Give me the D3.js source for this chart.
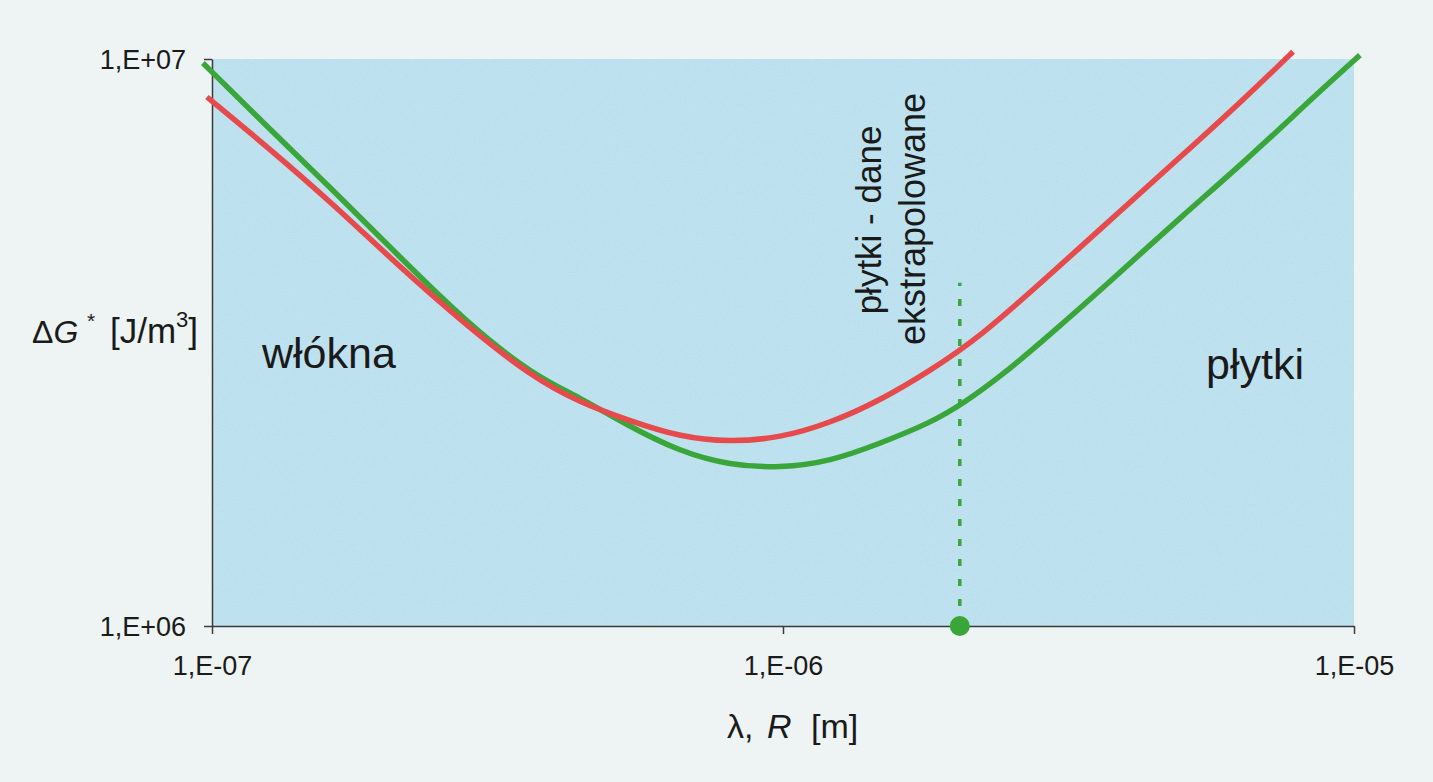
<!DOCTYPE html>
<html>
<head>
<meta charset="utf-8">
<script src="https://cdn.jsdelivr.net/npm/d3@7"></script>
<style>
  html, body { margin: 0; padding: 0; background: #eef3f3; }
  svg { display: block; font-family: "Liberation Sans", Arial, sans-serif; }
</style>
</head>
<body>
<svg id="chart"></svg>
<script>
// krzywe ΔG* w funkcji λ (włókna) / R (płytki)
const redX = [9.8e-8, 1.25e-7, 1.63e-7, 2.13e-7, 2.8e-7, 3.65e-7, 4.41e-7, 5.33e-7, 6.6e-7, 8.07e-7, 9.88e-7, 1.21e-6, 1.48e-6, 1.81e-6, 2.21e-6, 2.9e-6, 3.79e-6, 4.96e-6, 6.5e-6, 7.82e-6];
const redY = [8.57e6, 7.0e6, 5.55e6, 4.3e6, 3.38e6, 2.74e6, 2.48e6, 2.31e6, 2.154e6, 2.111e6, 2.146e6, 2.28e6, 2.5e6, 2.82e6, 3.23e6, 4.12e6, 5.26e6, 6.71e6, 8.6e6, 1.03e7];

const greenX = [9.64e-8, 1.25e-7, 1.63e-7, 2.13e-7, 2.8e-7, 3.65e-7, 4.41e-7, 5.33e-7, 6.6e-7, 8.07e-7, 9.88e-7, 1.21e-6, 1.48e-6, 1.81e-6, 2.07e-6, 2.4e-6, 2.9e-6, 3.79e-6, 4.96e-6, 6.5e-6, 8.47e-6, 1.024e-5];
const greenY = [9.84e6, 7.59e6, 5.87e6, 4.48e6, 3.42e6, 2.77e6, 2.53e6, 2.26e6, 2.03e6, 1.92e6, 1.9e6, 1.95e6, 2.1e6, 2.28e6, 2.47e6, 2.75e6, 3.23e6, 4.1e6, 5.25e6, 6.65e6, 8.55e6, 1.016e7];

// granica danych ekstrapolowanych
const markerX = [2.04e-6, 2.04e-6];
const markerY = [1e6, 4.03e6];

const xTicks = [1e-7, 1e-6, 1e-5];
const xTickLabels = ["1,E-07", "1,E-06", "1,E-05"];
const yTicks = [1e6, 1e7];
const yTickLabels = ["1,E+06", "1,E+07"];

const W = 1433, H = 782;
const margin = {top: 59, right: 79, bottom: 156, left: 212};
const width = W - margin.left - margin.right;
const height = H - margin.top - margin.bottom;

const svg = d3.select("#chart").attr("width", W).attr("height", H);

const x = d3.scaleLog().domain([1e-7, 1e-5]).range([0, width]);
const y = d3.scaleLog().domain([1e6, 1e7]).range([height, 0]);

const chart = svg.append("g")
  .attr("transform", "translate(" + margin.left + "," + margin.top + ")");

// tło obszaru wykresu (z lekkim "ziarnem" jak na skanie)
const defs = svg.append("defs");
const grain = defs.append("filter").attr("id", "grain")
  .attr("x", 0).attr("y", 0).attr("width", 1).attr("height", 1);
grain.append("feTurbulence").attr("type", "fractalNoise")
  .attr("baseFrequency", 0.9).attr("numOctaves", 1).attr("seed", 3);
grain.append("feColorMatrix").attr("type", "matrix")
  .attr("values", "0 0 0 0 0.45  0 0 0 0 0.65  0 0 0 0 0.85  0 0 0 -2.2 1.35");
grain.append("feComposite").attr("in2", "SourceGraphic").attr("operator", "in");

chart.append("rect")
  .attr("width", width).attr("height", height)
  .attr("fill", "#bfe3ee");
chart.append("rect")
  .attr("width", width).attr("height", height)
  .attr("fill", "#fff")
  .attr("filter", "url(#grain)")
  .attr("opacity", 0.45);

// osie
const xAxis = d3.axisBottom(x).tickValues(xTicks)
  .tickFormat((d, i) => xTickLabels[i]).tickSize(8).tickSizeOuter(0).tickPadding(22);
const yAxis = d3.axisLeft(y).tickValues(yTicks)
  .tickFormat((d, i) => yTickLabels[i]).tickSize(8).tickSizeOuter(0).tickPadding(18);

const gx = chart.append("g")
  .attr("transform", "translate(0," + height + ")")
  .call(xAxis);
const gy = chart.append("g").call(yAxis);

[gx, gy].forEach(g => {
  g.select(".domain").attr("stroke", "#3a3a3a").attr("stroke-width", 1.5);
  g.selectAll(".tick line").attr("stroke", "#3a3a3a").attr("stroke-width", 1.5);
  g.selectAll(".tick text")
    .attr("fill", "#1a1a1a")
    .style("font-size", "27px")
    .style("font-family", "'Liberation Sans', Arial, sans-serif");
});
gy.selectAll(".tick text").attr("dy", "0.35em");

// linia przerywana + punkt
chart.append("line")
  .attr("x1", x(markerX[0])).attr("x2", x(markerX[1]))
  .attr("y1", y(markerY[0])).attr("y2", y(markerY[1]))
  .attr("stroke", "#3aa63a")
  .attr("stroke-width", 3.5)
  .attr("stroke-dasharray", "7,13");

chart.append("circle")
  .attr("cx", x(markerX[0])).attr("cy", y(markerY[0]))
  .attr("r", 10)
  .attr("fill", "#3aa63a");

// krzywe
function drawPath(xs, ys, color) {
  const pts = xs.map((v, i) => [v, ys[i]]);
  const line = d3.line()
    .x(d => x(d[0]))
    .y(d => y(d[1]))
    .curve(d3.curveBasis);
  chart.append("path")
    .datum(pts)
    .attr("d", line)
    .attr("fill", "none")
    .attr("stroke", color)
    .attr("stroke-width", 5.5)
    .attr("stroke-linejoin", "round");
}

drawPath(greenX, greenY, "#3aa63a");
drawPath(redX, redY, "#e64a4c");

// podpisy
const txt = "#1a1a1a";

svg.append("text")
  .attr("x", 262).attr("y", 368)
  .attr("fill", txt)
  .style("font-size", "43px")
  .text("włókna");

svg.append("text")
  .attr("x", 1206).attr("y", 379)
  .attr("fill", txt)
  .style("font-size", "43px")
  .text("płytki");

svg.append("text")
  .attr("transform", "translate(881,220) rotate(-90)")
  .attr("text-anchor", "middle")
  .attr("fill", txt)
  .style("font-size", "35px")
  .text("płytki - dane");

svg.append("text")
  .attr("transform", "translate(925,219) rotate(-90)")
  .attr("text-anchor", "middle")
  .attr("fill", txt)
  .style("font-size", "36px")
  .text("ekstrapolowane");

// tytuł osi Y: ΔG* [J/m3]
const yl = svg.append("text")
  .attr("y", 343)
  .attr("fill", txt)
  .style("font-size", "32px");
yl.append("tspan").attr("x", 32).text("Δ");
yl.append("tspan").style("font-style", "italic").text("G");
yl.append("tspan").attr("x", 87).attr("dy", -15).style("font-size", "21px").text("*");
yl.append("tspan").attr("x", 110).attr("dy", 15).style("font-size", "35px").text("[J/m");
yl.append("tspan").attr("dy", -16).style("font-size", "22px").text("3");
yl.append("tspan").attr("dy", 16).style("font-size", "35px").text("]");

// tytuł osi X: λ, R [m]
const xl = svg.append("text")
  .attr("y", 738)
  .attr("fill", txt)
  .style("font-size", "34px");
xl.append("tspan").attr("x", 727).text("λ,");
xl.append("tspan").attr("x", 767).style("font-style", "italic").text("R");
xl.append("tspan").attr("x", 811).text("[m]");
</script>
</body>
</html>
